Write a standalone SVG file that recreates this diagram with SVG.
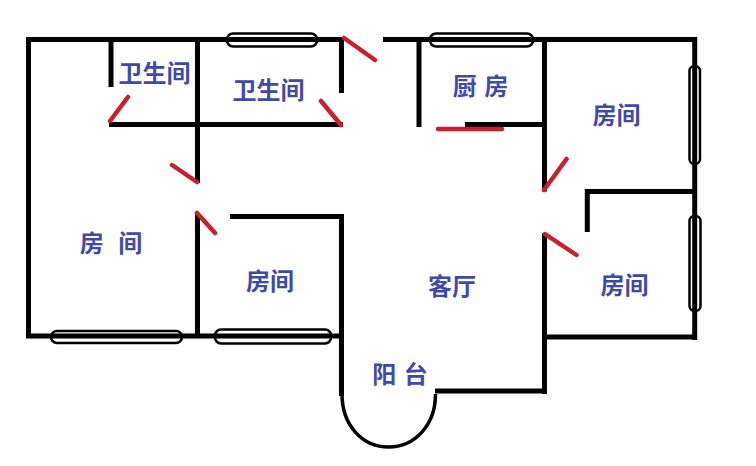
<svg xmlns="http://www.w3.org/2000/svg" width="756" height="466" viewBox="0 0 756 466">
<style>
.w{stroke:#000;stroke-width:5;fill:none;stroke-linecap:butt}
.a{stroke:#000;stroke-width:3.5;fill:none}
.g{stroke:#000;stroke-width:2.5;fill:none}
.d{stroke:#c9202f;stroke-width:4.5;fill:none;stroke-linecap:round}
text{font-family:"Noto Sans CJK SC","Noto Sans",sans-serif;font-size:24px;font-weight:700;fill:#3f4aa8;text-anchor:middle;dominant-baseline:central}
</style>
<rect width="756" height="466" fill="#fff"/>
<g id="walls">
<path class="w" d="M344 39.500H26M28.500 37V338.500M26 336H344M111 39V87M197.500 39V183M109 124.500H343M341.500 39V93M197.500 213V336M230 216.500H344M341.500 214V396M383 39.500H697M419 39V127M465 124.500H544M544.500 39V191.500M694.700 37V340M586 191.500H695M587.300 189V232M544.500 233V394M544 337H697M435 391H547"/>
<path class="a" d="M342 394C342 425 362 447 388.500 447C415 447 435.500 425 435.500 394"/>
</g>
<g id="windows">
<rect class="g" x="227" y="33.500" width="90" height="13" rx="6"/>
<rect class="g" x="430" y="33.500" width="103" height="13" rx="6"/>
<rect class="g" x="689.500" y="66" width="10.500" height="98" rx="5"/>
<rect class="g" x="689.500" y="216" width="11" height="95" rx="5"/>
<rect class="g" x="51" y="331" width="131" height="12" rx="6"/>
<rect class="g" x="215" y="329.500" width="116" height="14" rx="6"/>
</g>
<g id="doors">
<path class="d" d="M344 38L375 60M128 97L110 121M321 101L341 125M172 165L197 182M197 213L215 233M438 129H502M566.500 159L544 190M545 234L576.500 255"/>
</g>
<g id="labels">
<text x="154.500" y="71.500">卫生间</text>
<text x="268.500" y="88.500">卫生间</text>
<text x="480.500" y="84.500" word-spacing="2px">厨 房</text>
<text x="616.500" y="113.500">房间</text>
<text x="111" y="241.500" word-spacing="9px">房 间</text>
<text x="270" y="279.500">房间</text>
<text x="452" y="284.500">客厅</text>
<text x="400" y="372.500" word-spacing="2px">阳 台</text>
<text x="624.500" y="283.500">房间</text>
</g>
</svg>
